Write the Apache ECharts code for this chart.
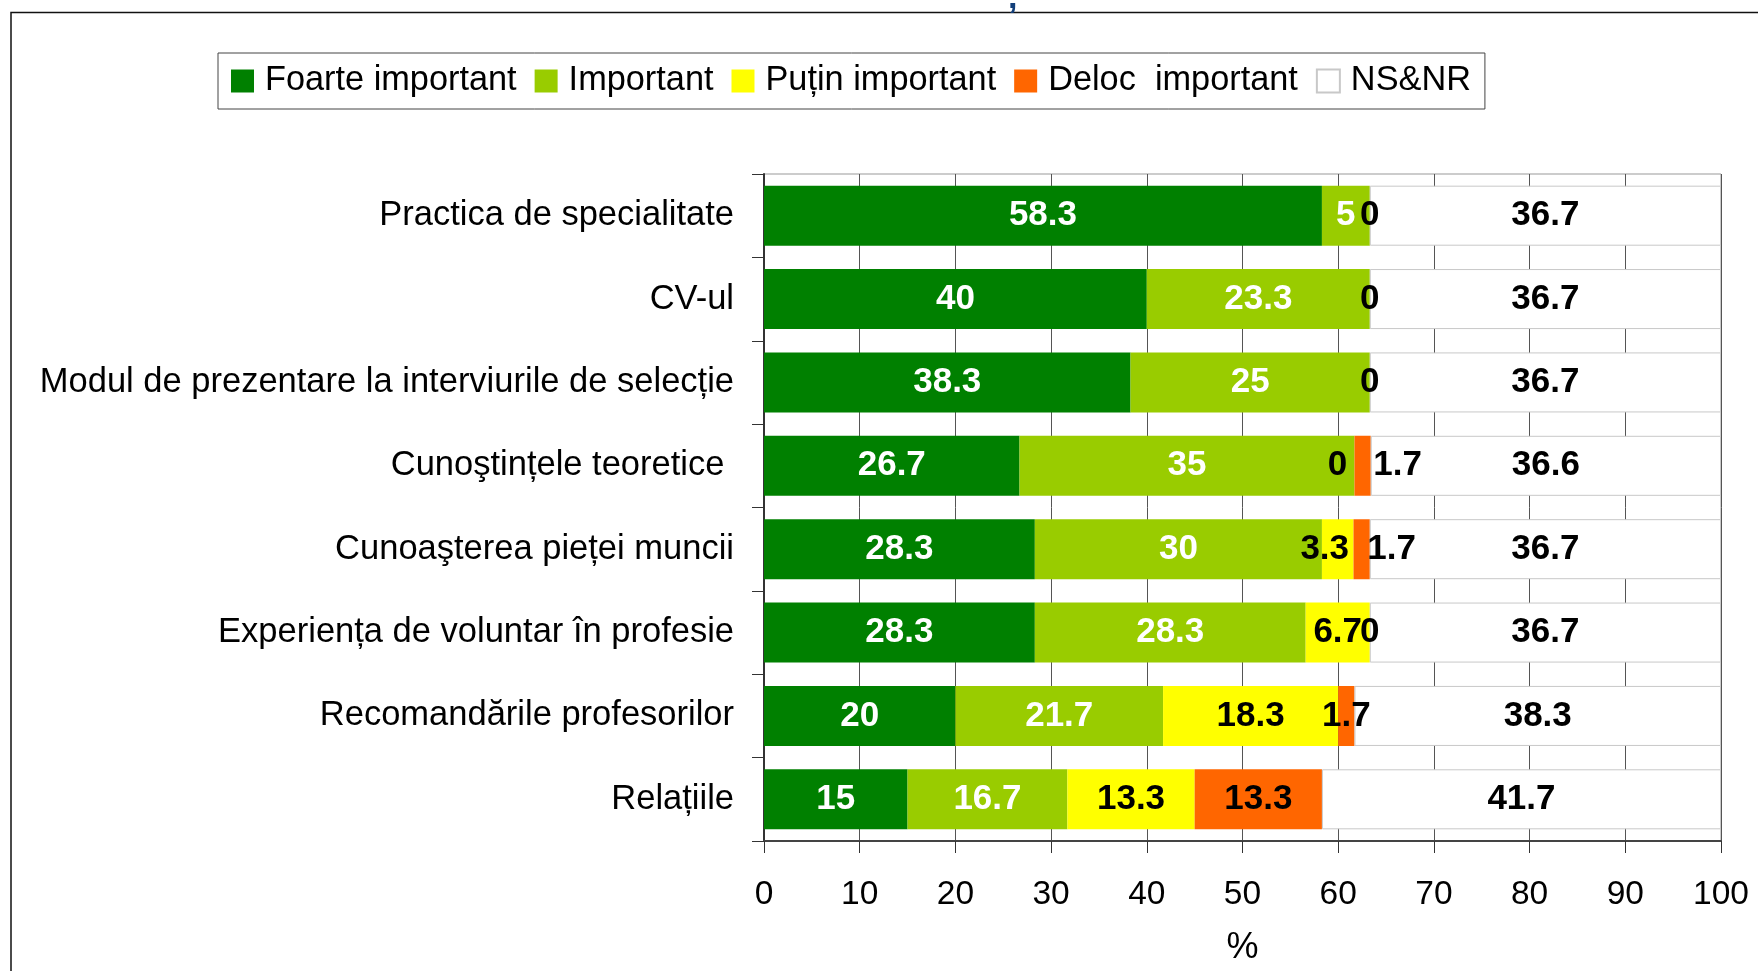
<!DOCTYPE html>
<html>
<head>
<meta charset="utf-8">
<title>Importanța factorilor</title>
<script src="https://cdn.jsdelivr.net/npm/echarts@6/dist/echarts.min.js"></script>
<style>
  html, body { margin: 0; padding: 0; background: #fff; }
  #chart { width: 1758px; height: 971px; }
</style>
</head>
<body>
<div id="chart"></div>
<script>
// date (%)
const categories = [
    'Practica de specialitate',
    'CV-ul',
    'Modul de prezentare la interviurile de selecție',
    'Cunoştințele teoretice ',
    'Cunoaşterea pieței muncii',
    'Experiența de voluntar în profesie',
    'Recomandările profesorilor',
    'Relațiile'
]
const seriesNames = ['Foarte important', 'Important', 'Puțin important', 'Deloc  important', 'NS&NR']
const foarteImportant = [58.3, 40, 38.3, 26.7, 28.3, 28.3, 20, 15]
const important = [5, 23.3, 25, 35, 30, 28.3, 21.7, 16.7]
const putinImportant = [0, 0, 0, 0, 3.3, 6.7, 18.3, 13.3]
const delocImportant = [null, null, null, 1.7, 1.7, 0, 1.7, 13.3]
const nsnr = [36.7, 36.7, 36.7, 36.6, 36.7, 36.7, 38.3, 41.7]
const xTicks = [0, 10, 20, 30, 40, 50, 60, 70, 80, 90, 100]

const colors = ['#008000', '#99cc00', '#ffff00', '#ff6600', '#ffffff']
const labelColors = ['#fff', '#fff', '#000', '#000', '#000']
// etichete mutate putin lateral, ca in original
const labelShift = [{}, {}, { 3: -17, 4: -13 }, { 3: 35, 4: 30 }, {}]

const font = '"Liberation Sans", Arial, sans-serif'
const chart = echarts.init(document.getElementById('chart'))

const values = [foarteImportant, important, putinImportant, delocImportant, nsnr]
const series = values.map((arr, i) => ({
    name: seriesNames[i],
    type: 'bar',
    stack: 'total',
    barWidth: '72%',
    itemStyle: i === 4
        ? { color: colors[i], borderColor: '#c8c8c8', borderWidth: 1 }
        : { color: colors[i] },
    label: {
        show: true,
        position: 'inside',
        color: labelColors[i],
        fontFamily: font,
        fontWeight: 'bold',
        fontSize: 35,
        formatter: p => p.value == null ? '' : String(p.value)
    },
    data: arr.map((v, j) => labelShift[i][j] !== undefined
        ? { value: v, label: { offset: [labelShift[i][j], 0] } }
        : v)
}))

chart.setOption({
    backgroundColor: '#fff',
    animation: false,
    color: colors,
    legend: {
        left: 218,
        top: 53,
        padding: [11, 14, 11, 13],
        itemWidth: 23,
        itemHeight: 23,
        itemGap: 18,
        icon: 'rect',
        borderColor: '#444',
        borderWidth: 1,
        textStyle: { fontFamily: font, fontSize: 34.3, color: '#000', padding: [0, 0, 0, 6] },
        data: seriesNames
    },
    grid: {
        left: 764,
        right: 37,
        top: 174,
        bottom: 128,
        show: true,
        borderColor: '#999',
        borderWidth: 1,
        containLabel: false
    },
    xAxis: {
        type: 'value',
        min: 0,
        max: 100,
        interval: 10,
        name: '%',
        nameLocation: 'middle',
        nameGap: 89,
        nameTextStyle: { fontFamily: font, fontSize: 36, color: '#000' },
        axisLine: { show: true, lineStyle: { color: '#444', width: 2 } },
        axisTick: { show: true, length: 12, lineStyle: { color: '#333' } },
        axisLabel: {
            fontFamily: font, fontSize: 33.5, color: '#000', margin: 37,
            formatter: v => xTicks.includes(v) ? String(v) : ''
        },
        splitLine: { show: true, lineStyle: { color: '#555', width: 1 } }
    },
    yAxis: {
        type: 'category',
        inverse: true,
        data: categories,
        axisLine: { show: true, lineStyle: { color: '#333', width: 2 } },
        axisTick: { show: true, length: 12, lineStyle: { color: '#333' } },
        axisLabel: { fontFamily: font, fontSize: 34.5, color: '#000', margin: 30 },
        splitLine: { show: false }
    },
    graphic: [
        // rama exterioara (taiata in original)
        { type: 'polyline', shape: { points: [[11, 971], [11, 12.5], [1758, 12.5]] },
          style: { stroke: '#111', lineWidth: 1.5, fill: null } },
        // bucata din titlul de deasupra
        { type: 'text', left: 1008, top: -18,
          style: { text: ',', font: 'bold 34px ' + font, fill: '#123f7a' } }
    ],
    series: series
})
</script>
</body>
</html>
